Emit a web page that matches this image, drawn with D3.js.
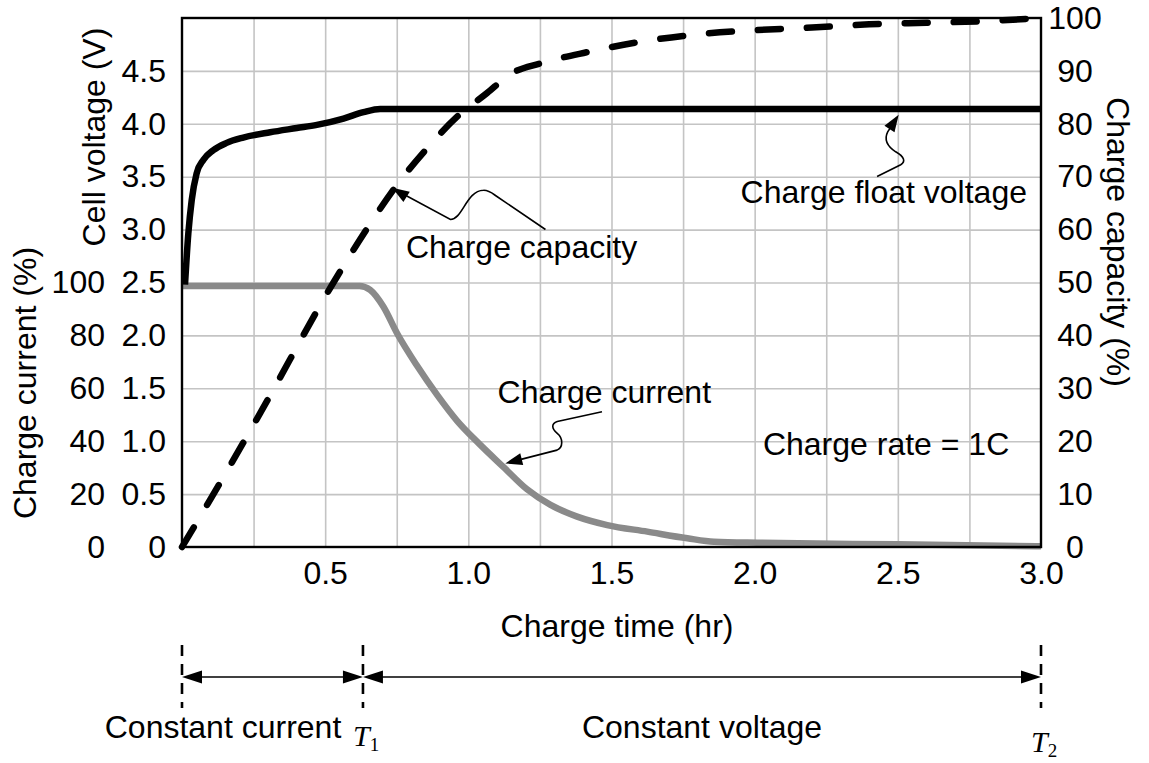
<!DOCTYPE html>
<html><head><meta charset="utf-8">
<script src="https://cdn.jsdelivr.net/npm/d3@7/dist/d3.min.js"></script>
<style>
body{margin:0;background:#fff}
text{font-family:Arial,"Liberation Sans",sans-serif;fill:#000}
</style>
</head><body>
<svg id="c" width="1149" height="763"></svg>
<script>
// ---------------- DATA ----------------
const timeTickValues = [0.5, 1.0, 1.5, 2.0, 2.5, 3.0];
const timeGridValues = [0.25, 0.5, 0.75, 1.0, 1.25, 1.5, 1.75, 2.0, 2.25, 2.5, 2.75];
const voltageTickValues = [0, 0.5, 1.0, 1.5, 2.0, 2.5, 3.0, 3.5, 4.0, 4.5];
const currentTickValues = [0, 20, 40, 60, 80, 100];
const capacityTickValues = [0, 10, 20, 30, 40, 50, 60, 70, 80, 90, 100];

// Cell voltage (V) vs charge time (hr)
const voltageTime = [0.0105, 0.022, 0.034, 0.051, 0.075, 0.109, 0.156, 0.214, 0.308, 0.401, 0.471, 0.564, 0.634, 0.692, 0.773, 3.0];
const voltageValue = [2.48, 2.96, 3.28, 3.53, 3.66, 3.75, 3.82, 3.87, 3.92, 3.96, 3.99, 4.05, 4.11, 4.14, 4.14, 4.14];

// Charge current (%) vs charge time (hr)
const currentTime = [0, 0.62, 0.657, 0.703, 0.751, 0.821, 0.891, 0.96, 1.04, 1.123, 1.205, 1.287, 1.38, 1.485, 1.625, 1.765, 1.858, 2.02, 2.5, 3.0];
const currentValue = [98.7, 98.7, 97.2, 90.9, 80.8, 68.5, 57.5, 47.8, 38.8, 30.2, 21.8, 15.9, 11.5, 8.3, 5.8, 3.3, 2.0, 1.6, 1.0, 0.3];

// Charge capacity (%) vs charge time (hr)
const capacityTime = [0, 0.098, 0.273, 0.528, 0.65, 0.75, 0.85, 0.96, 1.065, 1.15, 1.25, 1.42, 1.6, 1.8, 2.0, 2.2, 2.4, 2.6, 2.8, 3.0];
const capacityValue = [0, 8.9, 25.3, 49.9, 60.5, 68.4, 75.0, 81.3, 85.8, 89.5, 91.4, 93.6, 95.5, 96.9, 97.7, 98.2, 98.8, 99.1, 99.4, 100];

// phase boundaries (hr)
const phaseTimes = [0, 0.632, 3.0];

// ---------------- LAYOUT ----------------
const FS = 32;
const svg = d3.select("#c");
const x = d3.scaleLinear().domain([0, 3]).range([182, 1041]);
const yV = d3.scaleLinear().domain([0, 5]).range([547, 18]);
const yI = d3.scaleLinear().domain([0, 200]).range([547, 18]);
const yC = d3.scaleLinear().domain([0, 100]).range([547, 18]);
const plotH = 547 - 18, plotW = 1041 - 182;

// grid
const gx = svg.append("g").attr("transform", "translate(0,547)")
  .call(d3.axisBottom(x).tickValues(timeGridValues).tickSize(-plotH).tickFormat(""));
const gy = svg.append("g").attr("transform", "translate(182,0)")
  .call(d3.axisLeft(yC).tickValues(capacityTickValues.slice(1, 10)).tickSize(-plotW).tickFormat(""));
[gx, gy].forEach(g => {
  g.select(".domain").remove();
  g.selectAll("line").attr("stroke", "#c4c4c4").attr("stroke-width", 1.6);
});

// axis labels
function styleAxis(g) {
  g.select(".domain").remove();
  g.selectAll("line").remove();
  g.selectAll("text").attr("font-size", FS).attr("font-family", "Arial, 'Liberation Sans', sans-serif").attr("fill", "#000");
}
const ax = svg.append("g").attr("transform", "translate(0,547)")
  .call(d3.axisBottom(x).tickValues(timeTickValues).tickSize(0).tickPadding(14).tickFormat(d3.format(".1f")));
styleAxis(ax);

const aV = svg.append("g").attr("transform", "translate(182,0)")
  .call(d3.axisLeft(yV).tickValues(voltageTickValues).tickSize(0).tickPadding(16)
    .tickFormat(d => d === 0 ? "0" : d3.format(".1f")(d)));
styleAxis(aV);

const aI = svg.append("g").attr("transform", "translate(182,0)")
  .call(d3.axisLeft(yI).tickValues(currentTickValues).tickSize(0).tickPadding(77).tickFormat(d3.format("d")));
styleAxis(aI);

const aC = svg.append("g").attr("transform", "translate(1041,0)")
  .call(d3.axisRight(yC).tickValues(capacityTickValues).tickSize(0).tickFormat(d3.format("d")));
styleAxis(aC);
aC.selectAll("text").attr("x", 34).attr("text-anchor", "middle");

// axis titles
svg.append("text").attr("x", 617).attr("y", 637).attr("text-anchor", "middle").attr("font-size", FS).text("Charge time (hr)");
svg.append("text").attr("transform", "translate(36,383) rotate(-90)").attr("text-anchor", "middle").attr("font-size", FS).text("Charge current (%)");
svg.append("text").attr("transform", "translate(105,137) rotate(-90)").attr("text-anchor", "middle").attr("font-size", FS).text("Cell voltage (V)");
svg.append("text").attr("transform", "translate(1107,242) rotate(90)").attr("text-anchor", "middle").attr("font-size", FS).text("Charge capacity (%)");

// ---------------- SERIES ----------------
const currentData = currentTime.map((t, i) => ({t, v: currentValue[i]}));
const voltageData = voltageTime.map((t, i) => ({t, v: voltageValue[i]}));
const capacityData = capacityTime.map((t, i) => ({t, v: capacityValue[i]}));

svg.append("path").datum(currentData)
  .attr("d", d3.line().x(d => x(d.t)).y(d => yI(d.v)).curve(d3.curveMonotoneX))
  .attr("fill", "none").attr("stroke", "#8a8a8a").attr("stroke-width", 6.5).attr("stroke-linejoin", "round");

svg.append("path").datum(voltageData)
  .attr("d", d3.line().x(d => x(d.t)).y(d => yV(d.v)).curve(d3.curveMonotoneX))
  .attr("fill", "none").attr("stroke", "#000").attr("stroke-width", 6.5).attr("stroke-linejoin", "round");

svg.append("path").datum(capacityData)
  .attr("d", d3.line().x(d => x(d.t)).y(d => yC(d.v)).curve(d3.curveMonotoneX))
  .attr("fill", "none").attr("stroke", "#000").attr("stroke-width", 6.5)
  .attr("stroke-linecap", "round").attr("stroke-dasharray", "23,26");

// frame
svg.append("rect").attr("x", 182).attr("y", 18).attr("width", plotW).attr("height", plotH)
  .attr("fill", "none").attr("stroke", "#000").attr("stroke-width", 2.4);

// ---------------- ANNOTATIONS ----------------
function arrowHead(tx, ty, fx, fy, len, hw) {
  const dx = tx - fx, dy = ty - fy, L = Math.hypot(dx, dy);
  const ux = dx / L, uy = dy / L, bx = tx - ux * len, by = ty - uy * len;
  svg.append("path")
    .attr("d", `M${tx},${ty}L${bx - uy * hw},${by + ux * hw}L${bx + uy * hw},${by - ux * hw}Z`)
    .attr("fill", "#000");
}
function leader(t, p, d, base) {
  const tx = x(t), ty = yC(p);
  svg.append("path").attr("transform", `translate(${tx},${ty})`).attr("d", d)
    .attr("fill", "none").attr("stroke", "#000").attr("stroke-width", 1.6);
  arrowHead(tx, ty, tx + base[0], ty + base[1], 17, 6);
}
// Charge capacity
leader(0.734, 67.9, "M4,2.5L58.3,31.7C70.3,31.7 74.3,2.7 91.3,2.4C96.3,2.2 99.3,4.7 103.3,7.7L153.3,41.7", [12.3, 7.7]);
svg.append("text").attr("x", x(1.186)).attr("y", yC(54.6)).attr("text-anchor", "middle").attr("font-size", FS).text("Charge capacity");
// Charge float voltage
leader(2.503, 81.7, "M-3,5L-11,17C-15,25 -12,31 -3,37C6,42 7,47 2,50L-21.6,61.7", [-11, 17]);
svg.append("text").attr("x", x(2.451)).attr("y", yC(65.0)).attr("text-anchor", "middle").attr("font-size", FS).text("Charge float voltage");
// Charge current
leader(1.129, 15.8, "M5,-1.3L51.7,-13.3C58,-16 58,-25 52,-30C46,-35 46,-40 52,-42L96.7,-51.6", [16.7, -4.3]);
svg.append("text").attr("x", x(1.475)).attr("y", yC(27.2)).attr("text-anchor", "middle").attr("font-size", FS).text("Charge current");
// Charge rate
svg.append("text").attr("x", x(2.459)).attr("y", yC(17.4)).attr("text-anchor", "middle").attr("font-size", FS).text("Charge rate = 1C");

// ---------------- PHASE DIAGRAM ----------------
const arrowY = 677;
svg.selectAll("line.phase").data(phaseTimes).join("line")
  .attr("x1", d => x(d)).attr("x2", d => x(d)).attr("y1", 645).attr("y2", 708)
  .attr("stroke", "#000").attr("stroke-width", 2.6).attr("stroke-dasharray", "11,8");
for (let i = 0; i < phaseTimes.length - 1; i++) {
  const a = x(phaseTimes[i]), b = x(phaseTimes[i + 1]);
  svg.append("line").attr("x1", a + 10).attr("x2", b - 10).attr("y1", arrowY).attr("y2", arrowY)
    .attr("stroke", "#000").attr("stroke-width", 1.6);
  arrowHead(a, arrowY, a + 30, arrowY, 20, 6.5);
  arrowHead(b, arrowY, b - 30, arrowY, 20, 6.5);
}
svg.append("text").attr("x", 223).attr("y", 738).attr("text-anchor", "middle").attr("font-size", FS).text("Constant current");
svg.append("text").attr("x", 702).attr("y", 738).attr("text-anchor", "middle").attr("font-size", FS).text("Constant voltage");

function tLabel(t, sub, y) {
  const tx = svg.append("text").attr("x", x(t) - 10).attr("y", y)
    .attr("font-family", "'Times New Roman','Liberation Serif',serif").attr("font-size", 30);
  tx.append("tspan").attr("font-style", "italic").attr("font-family", "'Times New Roman','Liberation Serif',serif").text("T");
  tx.append("tspan").attr("font-size", 19).attr("dy", 5).attr("font-family", "'Times New Roman','Liberation Serif',serif").text(sub);
}
tLabel(phaseTimes[1], "1", 746);
tLabel(phaseTimes[2], "2", 752);
</script>
</body></html>
